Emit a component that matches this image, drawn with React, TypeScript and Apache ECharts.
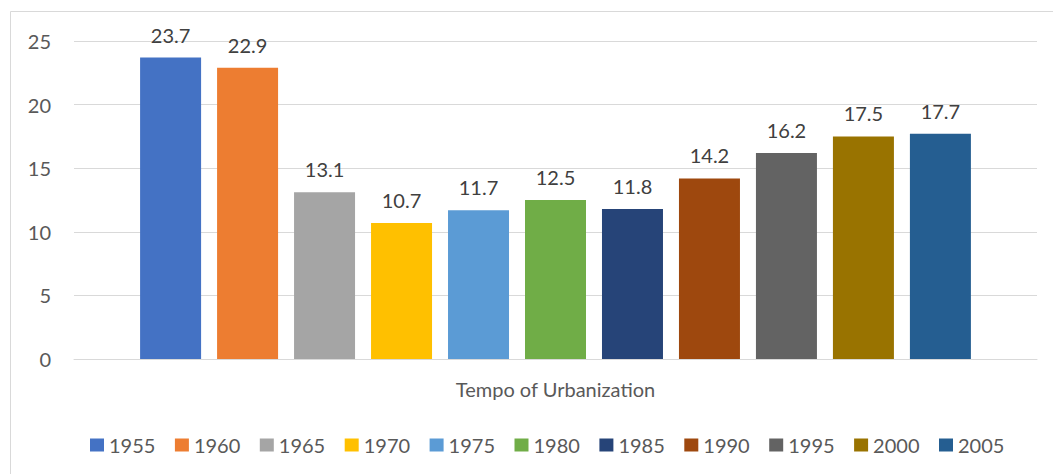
import React, { useEffect, useRef } from "react";
import * as echarts from "echarts";

const categories = ["Tempo of Urbanization"];
const years = ["1955", "1960", "1965", "1970", "1975", "1980", "1985", "1990", "1995", "2000", "2005"];
const values = [23.7, 22.9, 13.1, 10.7, 11.7, 12.5, 11.8, 14.2, 16.2, 17.5, 17.7];
const colors = ["#4472C4", "#ED7D31", "#A5A5A5", "#FFC000", "#5B9BD5", "#70AD47", "#264478", "#9E480E", "#636363", "#997300", "#255E91"];
const yTicks = { min: 0, max: 25, interval: 5 };

const FONT = "Lato, 'Open Sans', sans-serif";
const TEXT = "#595959";

export default function App() {
  const ref = useRef<HTMLDivElement>(null);
  useEffect(() => {
    if (!ref.current) return;
    const chart = echarts.init(ref.current, undefined, { renderer: "svg" });
    chart.setOption({
      animation: false,
      textStyle: { fontFamily: FONT },
      graphic: [
        {
          type: "rect",
          shape: { x: 10.5, y: 11.5, width: 1100, height: 500 },
          style: { fill: "none", stroke: "#d9d9d9", lineWidth: 1 },
          silent: true,
        },
      ],
      grid: { left: 74, right: 16, top: 41, bottom: 115 },
      legend: {
        data: years,
        left: 85,
        top: 430,
        itemWidth: 14,
        itemHeight: 13,
        itemGap: 19.5,
        icon: "rect",
        textStyle: { color: TEXT, fontSize: 20, fontFamily: FONT },
      },
      xAxis: {
        type: "category",
        data: categories,
        axisLine: { lineStyle: { color: "#d9d9d9", width: 1 } },
        axisTick: { show: false },
        axisLabel: { show: false },
        name: categories[0],
        nameLocation: "middle",
        nameGap: 20,
        nameTextStyle: { color: TEXT, fontSize: 20, fontFamily: FONT },
      },
      yAxis: {
        type: "value",
        min: yTicks.min,
        max: yTicks.max,
        interval: yTicks.interval,
        axisLine: { show: false },
        axisTick: { show: false },
        axisLabel: { color: TEXT, fontSize: 20, margin: 23, fontFamily: FONT },
        splitLine: { lineStyle: { color: "#d9d9d9", width: 1 } },
      },
      series: years.map((y, i) => ({
        name: y,
        type: "bar",
        data: [values[i]],
        barWidth: 61,
        barGap: "26.2%",
        itemStyle: { color: colors[i] },
        label: {
          show: true,
          position: "top",
          distance: 13,
          color: "#404040",
          fontSize: 20,
          fontFamily: FONT,
          formatter: (p: any) => p.value.toFixed(1),
        },
      })),
    });
    return () => chart.dispose();
  }, []);
  return <div ref={ref} style={{ position: "fixed", left: 0, top: 0, width: 1053, height: 474, background: "#fff" }} />;
}
